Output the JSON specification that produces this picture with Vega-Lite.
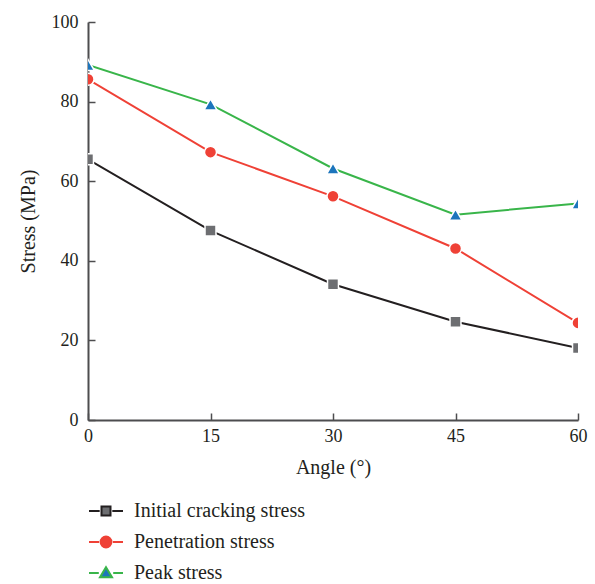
{
  "$schema": "https://vega.github.io/schema/vega-lite/v6.json",
  "width": 490,
  "height": 398,
  "autosize": "none",
  "padding": {"left": 88, "top": 22, "right": 17, "bottom": 164},
  "background": "white",
  "config": {
    "view": {"stroke": null},
    "font": "Liberation Serif",
    "axis": {
      "labelFont": "Liberation Serif",
      "titleFont": "Liberation Serif",
      "labelFontSize": 18,
      "titleFontSize": 20,
      "titleFontWeight": "normal",
      "labelColor": "#231f20",
      "titleColor": "#231f20",
      "domainColor": "#4d4d4f",
      "domainWidth": 2,
      "tickColor": "#4d4d4f",
      "tickWidth": 1.5,
      "tickSize": -7,
      "grid": false
    },
    "legend": {
      "labelFont": "Liberation Serif",
      "labelFontSize": 20,
      "labelColor": "#231f20",
      "labelLimit": 400,
      "title": null,
      "orient": "none",
      "legendX": 8,
      "legendY": 479,
      "direction": "vertical",
      "labelOffset": 18,
      "rowPadding": 11,
      "symbolSize": 144,
      "symbolStrokeWidth": 2,
      "symbolOpacity": 1
    }
  },
  "data": {
    "values": [
      {"angle": 0, "series": "Initial cracking stress", "stress": 65.5},
      {"angle": 15, "series": "Initial cracking stress", "stress": 47.6},
      {"angle": 30, "series": "Initial cracking stress", "stress": 34.1},
      {"angle": 45, "series": "Initial cracking stress", "stress": 24.7},
      {"angle": 60, "series": "Initial cracking stress", "stress": 18.1},
      {"angle": 0, "series": "Penetration stress", "stress": 85.6},
      {"angle": 15, "series": "Penetration stress", "stress": 67.3},
      {"angle": 30, "series": "Penetration stress", "stress": 56.2},
      {"angle": 45, "series": "Penetration stress", "stress": 43.1},
      {"angle": 60, "series": "Penetration stress", "stress": 24.4},
      {"angle": 0, "series": "Peak stress", "stress": 89.2},
      {"angle": 15, "series": "Peak stress", "stress": 79.3},
      {"angle": 30, "series": "Peak stress", "stress": 63.2},
      {"angle": 45, "series": "Peak stress", "stress": 51.6},
      {"angle": 60, "series": "Peak stress", "stress": 54.4}
    ]
  },
  "encoding": {
    "x": {
      "field": "angle",
      "type": "quantitative",
      "scale": {"domain": [0, 60], "nice": false},
      "axis": {"values": [0, 15, 30, 45, 60], "title": "Angle (°)", "labelPadding": 14, "titlePadding": 12, "labelFlush": false}
    },
    "y": {
      "field": "stress",
      "type": "quantitative",
      "scale": {"domain": [0, 100], "nice": false},
      "axis": {"values": [0, 20, 40, 60, 80, 100], "title": "Stress (MPa)", "labelPadding": 17, "titlePadding": 13, "labelFlush": false}
    }
  },
  "layer": [
    {
      "mark": {"type": "line", "strokeWidth": 2, "clip": true},
      "encoding": {
        "stroke": {
          "field": "series",
          "type": "nominal",
          "scale": {"domain": ["Initial cracking stress", "Penetration stress", "Peak stress"], "range": ["#231f20", "#ef4136", "#39b54a"]},
          "legend": {"title": null}
        }
      }
    },
    {
      "transform": [{"filter": "datum.series === 'Initial cracking stress'"}],
      "mark": {"type": "point", "shape": "square", "filled": true, "size": 120, "fill": "#6d6e71", "stroke": "white", "strokeWidth": 1.5, "opacity": 1, "clip": true}
    },
    {
      "transform": [{"filter": "datum.series === 'Penetration stress'"}],
      "mark": {"type": "point", "shape": "circle", "filled": true, "size": 145, "fill": "#ef4136", "stroke": "white", "strokeWidth": 1.5, "opacity": 1, "clip": true}
    },
    {
      "transform": [{"filter": "datum.series === 'Peak stress'"}],
      "mark": {"type": "point", "shape": "triangle-up", "filled": true, "size": 165, "fill": "#1c75bc", "stroke": "white", "strokeWidth": 1.5, "opacity": 1, "clip": true}
    },
    {
      "mark": {"type": "point", "filled": true, "size": 0, "strokeWidth": 2, "opacity": 1},
      "encoding": {
        "stroke": {
          "field": "series",
          "type": "nominal",
          "scale": {"domain": ["Initial cracking stress", "Penetration stress", "Peak stress"], "range": ["#231f20", "#ef4136", "#39b54a"]},
          "legend": {"title": null}
        },
        "fill": {
          "field": "series",
          "type": "nominal",
          "scale": {"domain": ["Initial cracking stress", "Penetration stress", "Peak stress"], "range": ["#6d6e71", "#ef4136", "#1c75bc"]},
          "legend": {"title": null}
        },
        "shape": {
          "field": "series",
          "type": "nominal",
          "scale": {"domain": ["Initial cracking stress", "Penetration stress", "Peak stress"], "range": [
            "M-2.83,0H-1.05M1.05,0H2.83M-0.75,-0.75H0.75V0.75H-0.75Z",
            "M-2.83,0H-1.15M1.15,0H2.83M0.9,0A0.9,0.9 0 1,1 -0.9,0A0.9,0.9 0 1,1 0.9,0Z",
            "M-2.83,0H-1.2M1.2,0H2.83M0,-0.95L1,0.7H-1Z"
          ]},
          "legend": {"title": null}
        }
      }
    }
  ]
}
